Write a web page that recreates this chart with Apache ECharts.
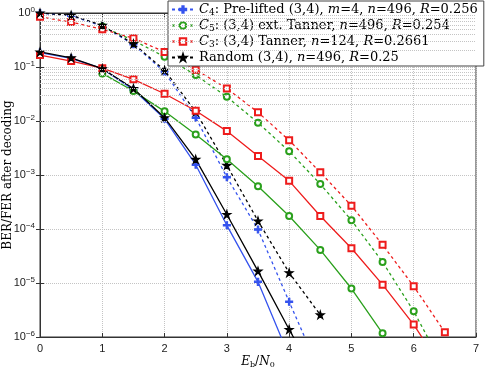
<!DOCTYPE html>
<html>
<head>
<meta charset="utf-8">
<script src="https://cdn.jsdelivr.net/npm/echarts@6/dist/echarts.min.js"></script>
<style>
  html, body { margin: 0; padding: 0; background: #fff; }
  #chart { width: 485px; height: 368px; }
</style>
</head>
<body>
<div id="chart"></div>
<script>
// Eb/N0 points
const snrFull = [0, 0.5, 1, 1.5, 2, 2.5, 3, 3.5, 4, 4.5, 5, 5.5, 6, 6.5]
const snrFrom1 = [1, 1.5, 2, 2.5, 3, 3.5, 4, 4.5, 5, 5.5, 6, 6.5]

// C4 pre-lifted (blue)
const c4Fer = [1.0, 0.89, 0.575, 0.263, 0.081, 0.0115, 9.1e-4, 9.8e-5, 4.5e-6, 2.2e-7]
const c4Ber = [0.185, 0.145, 0.093, 0.038, 0.011, 1.55e-3, 1.17e-4, 1.05e-5, 4.4e-7]
// C5 ext. Tanner (green), starts at 1 dB
const c5Fer = [0.56, 0.31, 0.155, 0.071, 0.028, 9.3e-3, 2.75e-3, 6.8e-4, 1.45e-4, 2.45e-5, 3.0e-6, 2.5e-7]
const c5Ber = [0.076, 0.036, 0.0151, 5.6e-3, 1.95e-3, 6.2e-4, 1.74e-4, 4.1e-5, 7.9e-6, 1.17e-6]
// C3 Tanner (red)
const c3Fer = [0.85, 0.68, 0.50, 0.34, 0.19, 0.089, 0.040, 0.0145, 4.4e-3, 1.12e-3, 2.7e-4, 5.1e-5, 8.7e-6, 1.23e-6]
const c3Ber = [0.166, 0.129, 0.095, 0.059, 0.032, 0.0155, 6.5e-3, 2.24e-3, 7.8e-4, 1.74e-4, 4.4e-5, 9.3e-6, 1.7e-6, 2.2e-7]
// Random (black)
const rndFer = [1.0, 0.91, 0.59, 0.27, 0.087, 0.0148, 1.51e-3, 1.41e-4, 1.55e-5, 2.57e-6]
const rndBer = [0.19, 0.148, 0.093, 0.040, 0.0115, 1.95e-3, 1.86e-4, 1.66e-5, 1.38e-6, 1.26e-7]

const legendNames = {
  C4: '{i|C}{s|4}: Pre-lifted (3,4), {i|m}=4, {i|n}=496, {i|R}=0.256',
  C5: '{i|C}{s|5}: (3,4) ext. Tanner, {i|n}=496, {i|R}=0.254',
  C3: '{i|C}{s|3}: (3,4) Tanner, {i|n}=124, {i|R}=0.2661',
  RND: 'Random (3,4), {i|n}=496, {i|R}=0.25'
}

const BLUE = '#3553ee'
const GREEN = '#2aa01c'
const RED = '#ee1c1c'
const BLACK = '#000'

const PLUS = 'path://M4,0h2v4h4v2h-4v4h-2v-4h-4v-2h4z'
const STAR = 'path://M5,0 L6.2,3.6 L10,3.6 L6.9,5.8 L8.1,9.5 L5,7.2 L1.9,9.5 L3.1,5.8 L0,3.6 L3.8,3.6 Z'

const SERIF = 'DejaVu Serif'

const pairs = (xs, ys) => ys.map((v, i) => [xs[i], v])

// minor log grid lines (2..9 x 10^k)
const minorLines = []
for (let k = -6; k < 0; k++) {
  for (let m = 2; m <= 9; m++) minorLines.push({ yAxis: m * Math.pow(10, k) })
}

const mkSeries = (name, xs, ys, color, symbol, size, dashed) => ({
  name: name,
  type: 'line',
  data: pairs(xs, ys),
  symbol: symbol,
  symbolSize: size,
  showAllSymbol: true,
  clip: true,
  z: 3,
  lineStyle: { color: color, width: 1.3, type: dashed ? [3, 3] : 'solid' },
  itemStyle: { color: color, borderColor: color, borderWidth: 1.1 },
  animation: false
})

const chart = echarts.init(document.getElementById('chart'))

const mkRich = (fs) => ({
  i: { fontFamily: SERIF, fontStyle: 'italic', fontSize: fs },
  s: { fontFamily: SERIF, fontSize: fs - 4, verticalAlign: 'bottom', padding: [6, 0, 0, 0] }
})

const option = {
  animation: false,
  grid: {
    left: 40, right: 9, top: 13, bottom: 31,
    outerBoundsMode: 'none', containLabel: false,
    show: true, borderColor: '#333', borderWidth: 1
  },
  xAxis: [{
    type: 'value', min: 0, max: 7, interval: 1,
    name: '{i|E}{s|b}/{i|N}{s|0}',
    nameLocation: 'middle', nameGap: 18, nameMoveOverlap: false,
    nameTextStyle: { fontFamily: SERIF, fontSize: 12, color: '#000', rich: mkRich(12) },
    axisLine: { show: true, lineStyle: { color: '#333' } },
    axisTick: { inside: true, length: 4, lineStyle: { color: '#333' } },
    axisLabel: { color: '#222', fontFamily: 'Liberation Sans', fontSize: 11, margin: 6 },
    splitLine: { show: true, lineStyle: { type: 'dotted', color: '#c4c4c4', width: 1 } }
  }, {
    type: 'value', min: 0, max: 7, interval: 1, position: 'top',
    axisLine: { show: true, lineStyle: { color: '#333' } },
    axisTick: { inside: true, length: 4, lineStyle: { color: '#333' } },
    axisLabel: { show: false }, splitLine: { show: false }
  }],
  yAxis: [{
    type: 'log', logBase: 10, min: 1e-6, max: 1, splitNumber: 6,
    name: 'BER/FER after decoding',
    nameLocation: 'middle', nameGap: 26, nameMoveOverlap: false,
    nameTextStyle: { fontFamily: SERIF, fontSize: 12, color: '#000' },
    axisLine: { show: true, lineStyle: { color: '#333' } },
    axisTick: { inside: true, length: 4, lineStyle: { color: '#333' } },
    axisLabel: {
      color: '#222', fontFamily: 'Liberation Sans', fontSize: 11, margin: 5,
      formatter: v => {
        const e = Math.round(Math.log10(v))
        return '10{e|' + (e < 0 ? '\u2212' + (-e) : e) + '}'
      },
      rich: { e: { fontSize: 8, fontFamily: 'Liberation Sans', verticalAlign: 'top', padding: [0, 0, 7, 0], color: '#222' } }
    },
    splitLine: { show: true, lineStyle: { type: 'dotted', color: '#c4c4c4', width: 1 } }
  }, {
    type: 'log', logBase: 10, min: 1e-6, max: 1, splitNumber: 6, position: 'right',
    axisLine: { show: true, lineStyle: { color: '#333' } },
    axisTick: { inside: true, length: 4, lineStyle: { color: '#333' } },
    axisLabel: { show: false }, splitLine: { show: false }
  }],
  legend: {
    left: 168, top: 1,
    orient: 'vertical',
    data: ['C4', 'C5', 'C3', 'RND'],
    backgroundColor: '#fff',
    borderColor: '#444', borderWidth: 1, borderRadius: 0,
    padding: [2, 6, 2, 3],
    itemGap: 2, itemWidth: 22, itemHeight: 8,
    selectedMode: false,
    formatter: n => legendNames[n],
    textStyle: { fontFamily: SERIF, fontSize: 13, color: '#000', rich: mkRich(13) }
  },
  series: [
    {
      name: 'grid-minor', type: 'line', data: [], silent: true, z: 1,
      markLine: {
        silent: true, symbol: ['none', 'none'], label: { show: false }, animation: false,
        lineStyle: { type: 'dotted', color: '#c4c4c4', width: 1 },
        data: minorLines
      }
    },
    mkSeries('C4', snrFull, c4Fer, BLUE, PLUS, 7, true),
    mkSeries('C5', snrFrom1, c5Fer, GREEN, 'emptyCircle', 6, true),
    mkSeries('C3', snrFull, c3Fer, RED, 'emptyRect', 6, true),
    mkSeries('RND', snrFull, rndFer, BLACK, STAR, 8, true),
    mkSeries('C4', snrFull, c4Ber, BLUE, PLUS, 7, false),
    mkSeries('C5', snrFrom1, c5Ber, GREEN, 'emptyCircle', 6, false),
    mkSeries('C3', snrFull, c3Ber, RED, 'emptyRect', 6, false),
    mkSeries('RND', snrFull, rndBer, BLACK, STAR, 8, false)
  ]
}

chart.setOption(option)
</script>
</body>
</html>
